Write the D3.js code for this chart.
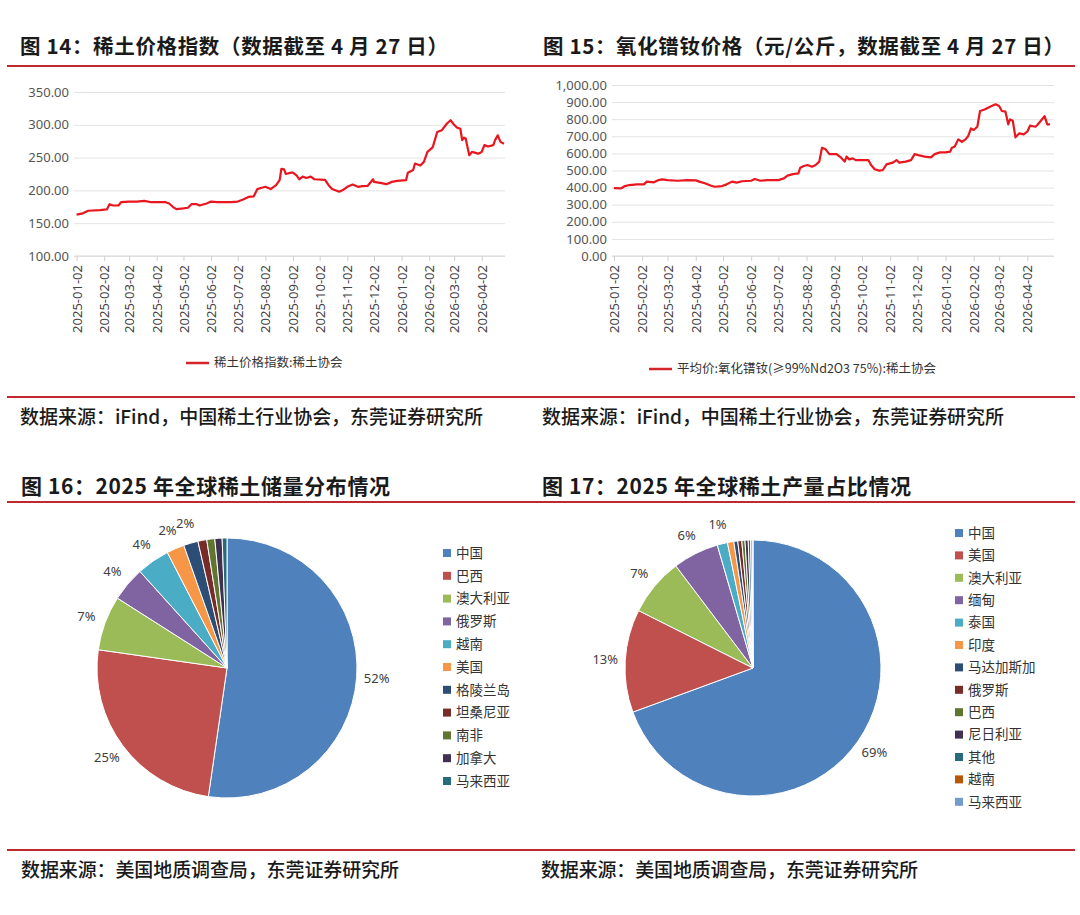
<!DOCTYPE html>
<html>
<head>
<meta charset="utf-8">
<script src="https://cdn.jsdelivr.net/npm/d3@7"></script>
<style>
  body { margin: 0; background: #fff; }
  svg { display: block; font-family: "Noto Sans CJK SC", "Noto Sans", sans-serif; }
</style>
</head>
<body>
<svg id="chart"></svg>
<script>
// ---- data ----
const tickLabels = ['2025-01-02','2025-02-02','2025-03-02','2025-04-02','2025-05-02','2025-06-02',
  '2025-07-02','2025-08-02','2025-09-02','2025-10-02','2025-11-02','2025-12-02',
  '2026-01-02','2026-02-02','2026-03-02','2026-04-02']

// 稀土价格指数
const reDates = ['2025-01-02','2025-01-09','2025-01-15','2025-01-28','2025-02-05','2025-02-08','2025-02-12',
  '2025-02-18','2025-02-21','2025-03-02','2025-03-11','2025-03-19','2025-03-27','2025-04-12','2025-04-16',
  '2025-04-20','2025-04-24','2025-05-02','2025-05-07','2025-05-11','2025-05-17','2025-05-20','2025-05-28',
  '2025-06-02','2025-06-09','2025-06-24','2025-07-02','2025-07-08','2025-07-14','2025-07-20','2025-07-24',
  '2025-07-29','2025-08-02','2025-08-08','2025-08-14','2025-08-18','2025-08-20','2025-08-23','2025-08-25',
  '2025-08-31','2025-09-02','2025-09-06','2025-09-09','2025-09-13','2025-09-17','2025-09-22','2025-09-26',
  '2025-10-08','2025-10-12','2025-10-16','2025-10-24','2025-10-28','2025-11-02','2025-11-08','2025-11-14',
  '2025-11-19','2025-11-25','2025-12-01','2025-12-02','2025-12-09','2025-12-16','2025-12-22','2025-12-28',
  '2026-01-07','2026-01-09','2026-01-15','2026-01-17','2026-01-23','2026-01-27','2026-01-31','2026-02-02',
  '2026-02-06','2026-02-11','2026-02-16','2026-02-22','2026-02-26','2026-03-02','2026-03-05','2026-03-09',
  '2026-03-11','2026-03-13','2026-03-15','2026-03-17','2026-03-19','2026-03-22','2026-03-29','2026-04-02',
  '2026-04-05','2026-04-09','2026-04-15','2026-04-17','2026-04-20','2026-04-23','2026-04-27']
const reIndex = [163,165,169,170,171,179,177,
  177,182,183,183,184,182,182,180,
  175,171.5,172.5,173.5,179,179,177,180,
  183,182,182,183,186,190,191,202,
  204,205.5,202,208,215.6,233,232,225,
  227,227,223,217,221,219,221,217,
  216,208,202,198,200.5,205.5,209,205.5,
  206.5,207,217,213,211.5,209.5,213,214.5,
  215.6,227,231,241,238,243.5,258.7,261,
  266,289,291.6,302,307,300,296,294,
  276.6,280.5,279,266,253.6,258.7,256,258.7,
  269,267,269,276.6,284,274,271]

// 平均价:氧化镨钕 (元/公斤)
const ndDates = ['2025-01-02','2025-01-10','2025-01-14','2025-01-19','2025-01-27','2025-02-04','2025-02-07',
  '2025-02-15','2025-02-20','2025-02-24','2025-03-02','2025-03-13','2025-03-24','2025-04-02','2025-04-06',
  '2025-04-12','2025-04-19','2025-04-23','2025-05-01','2025-05-06','2025-05-12','2025-05-17','2025-05-23',
  '2025-06-02','2025-06-06','2025-06-12','2025-06-20','2025-07-02','2025-07-08','2025-07-12','2025-07-18',
  '2025-07-24','2025-07-26','2025-07-30','2025-08-03','2025-08-08','2025-08-12','2025-08-16','2025-08-19',
  '2025-08-23','2025-08-27','2025-09-04','2025-09-09','2025-09-13','2025-09-15','2025-09-18','2025-09-22',
  '2025-09-25','2025-10-09','2025-10-12','2025-10-16','2025-10-21','2025-10-25','2025-10-29','2025-11-05',
  '2025-11-09','2025-11-12','2025-11-19','2025-11-25','2025-11-29','2025-12-03','2025-12-10','2025-12-17',
  '2025-12-21','2025-12-27','2026-01-02','2026-01-07','2026-01-09','2026-01-12','2026-01-16','2026-01-20',
  '2026-01-24','2026-01-27','2026-01-30','2026-02-02','2026-02-06','2026-02-09','2026-02-14','2026-02-20',
  '2026-02-26','2026-03-02','2026-03-05','2026-03-09','2026-03-12','2026-03-14','2026-03-17','2026-03-20',
  '2026-03-24','2026-03-29','2026-04-02','2026-04-05','2026-04-11','2026-04-13','2026-04-17','2026-04-21',
  '2026-04-24','2026-04-27']
const ndPrice = [397,396,409,415,419,419,435,
  431,444,448,444,440,444,442,435,
  425,411,405,409,419,435,429,437,
  440,450,440,444,444,454,470,479,
  483,516,526,532,522,532,552,633,
  624,596,596,575,552,581,565,571,
  561,561,532,507,499,503,536,546,
  561,546,552,561,596,590,581,577,
  596,606,606,610,633,639,682,668,
  682,702,746,737,756,848,857,873,
  887,877,848,844,770,799,791,694,
  717,711,727,762,756,766,791,818,
  770,770]

// 2025 年全球稀土储量分布 (%)
const reserveNames = ['中国','巴西','澳大利亚','俄罗斯','越南','美国','格陵兰岛','坦桑尼亚','南非','加拿大','马来西亚']
const reserveShare = [52.4,25.0,6.8,4.3,4.1,2.2,1.8,1.1,1.0,0.9,0.6]

// 2025 年全球稀土产量占比 (%)
const outputNames = ['中国','美国','澳大利亚','缅甸','泰国','印度','马达加斯加','俄罗斯','巴西','尼日利亚','其他','越南','马来西亚']
const outputShare = [69.4,13.0,7.3,5.8,1.3,0.8,0.5,0.5,0.4,0.4,0.3,0.2,0.1]

const titles = ['图 14：稀土价格指数（数据截至 4 月 27 日）',
  '图 15：氧化镨钕价格（元/公斤，数据截至 4 月 27 日）',
  '图 16：2025 年全球稀土储量分布情况',
  '图 17：2025 年全球稀土产量占比情况']
const sources = ['数据来源：iFind，中国稀土行业协会，东莞证券研究所',
  '数据来源：美国地质调查局，东莞证券研究所']
const seriesNames = ['稀土价格指数:稀土协会', '平均价:氧化镨钕(≥99%Nd2O3 75%):稀土协会']

// ---- drawing ----
const svg = d3.select('#chart').attr('width', 1080).attr('height', 915)
const parse = d3.timeParse('%Y-%m-%d')
const ruleColor = '#c0282e'
const lineRed = '#e8161e'
const pal = ['#4f81bd','#c0504d','#9bbb59','#8064a2','#4bacc6','#f79646',
  '#2c4d75','#772c2a','#5f7530','#403152','#276a7c','#b65708','#729aca']

svg.append('rect').attr('width', 1080).attr('height', 915).attr('fill', '#fff')

// red rules
;[66, 397, 502, 850].forEach(y => {
  svg.append('line').attr('x1', 7).attr('x2', 1075).attr('y1', y).attr('y2', y)
    .attr('stroke', ruleColor).attr('stroke-width', 2)
})

function heading(x, y, text, len, size, weight) {
  svg.append('text').attr('x', x).attr('y', y).text(text)
    .attr('font-size', size).attr('font-weight', weight).attr('fill', '#1a1a1a')
    .attr('textLength', len).attr('lengthAdjust', 'spacing')
}

heading(20, 54, titles[0], 428, 20.5, 'bold')
heading(543, 54, titles[1], 521, 20.5, 'bold')
heading(21, 494, titles[2], 369, 21, 'bold')
heading(542, 494, titles[3], 369, 21, 'bold')
heading(20, 424, sources[0], 463, 19, 500)
heading(542, 424, sources[0], 462, 19, 500)
heading(21, 877, sources[1], 378, 19, 500)
heading(541, 877, sources[1], 377, 19, 500)

function lineChart(cfg) {
  const { gridLeft, gridRight, left, right, top, bottom, domain, ticks, fmt, dates, values, name, legendX, legendY } = cfg
  const x = d3.scaleTime().domain([parse('2025-01-02'), parse('2026-04-27')]).range([left, right])
  const y = d3.scaleLinear().domain(domain).range([bottom, top])
  const g = svg.append('g')

  const yAxis = g.append('g').attr('transform', `translate(${gridLeft},0)`)
    .call(d3.axisLeft(y).tickValues(ticks).tickFormat(fmt).tickSize(-(gridRight - gridLeft)).tickPadding(5))
  yAxis.select('.domain').remove()
  yAxis.selectAll('line').attr('stroke', '#e3e3e3')
  yAxis.selectAll('text').attr('font-size', 13).attr('fill', '#555').attr('font-family', '"Noto Sans", sans-serif')

  const xAxis = g.append('g').attr('transform', `translate(0,${bottom})`)
    .call(d3.axisBottom(x).tickValues(tickLabels.map(parse)).tickSizeOuter(0).tickSize(5)
      .tickFormat((d, i) => tickLabels[i]))
  xAxis.select('.domain').attr('stroke', '#d9d9d9').attr('d', `M${gridLeft - left + left},0H${gridRight}`)
  xAxis.selectAll('line').attr('stroke', '#d0d0d0')
  xAxis.selectAll('text')
    .attr('transform', 'rotate(-90)')
    .attr('x', -9).attr('y', 0).attr('dy', '0.35em')
    .attr('text-anchor', 'end')
    .attr('font-size', 13).attr('fill', '#444')
    .attr('font-family', '"Noto Sans", sans-serif')

  const pts = dates.map((d, i) => [parse(d), values[i]])
  const line = d3.line().x(d => x(d[0])).y(d => y(d[1]))
  g.append('path').datum(pts).attr('d', line)
    .attr('fill', 'none').attr('stroke', lineRed).attr('stroke-width', 2.2).attr('stroke-linejoin', 'round')

  g.append('line').attr('x1', legendX).attr('x2', legendX + 23).attr('y1', legendY).attr('y2', legendY)
    .attr('stroke', '#d4232a').attr('stroke-width', 2.5)
  g.append('text').attr('x', legendX + 28).attr('y', legendY).attr('dy', '0.35em')
    .text(name).attr('font-size', 12.5).attr('fill', '#333')
}

lineChart({
  gridLeft: 74, gridRight: 505, left: 76.6, right: 504, top: 92, bottom: 256,
  domain: [100, 350], ticks: d3.range(100, 351, 50), fmt: d3.format('.2f'),
  dates: reDates, values: reIndex, name: seriesNames[0], legendX: 186, legendY: 363
})
lineChart({
  gridLeft: 612, gridRight: 1054, left: 614, right: 1050, top: 85, bottom: 256,
  domain: [0, 1000], ticks: d3.range(0, 1001, 100), fmt: d3.format(',.2f'),
  dates: ndDates, values: ndPrice, name: seriesNames[1], legendX: 649, legendY: 369
})

function pieChart(cfg) {
  const { cx, cy, r, names, values, labelMin, legendX, legendY, legendStep } = cfg
  const total = d3.sum(values)
  const pie = d3.pie().sort(null).value(d => d)
  const arc = d3.arc().innerRadius(0).outerRadius(r)
  const labelArc = d3.arc().innerRadius(r + 20).outerRadius(r + 20)
  const color = d3.scaleOrdinal().domain(names).range(pal)
  const arcs = pie(values)

  const g = svg.append('g').attr('transform', `translate(${cx},${cy})`)
  g.selectAll('.slice').data(arcs).enter()
    .append('path').attr('class', 'slice')
    .attr('d', arc)
    .attr('fill', (d, i) => color(names[i]))
    .attr('stroke', '#fff').attr('stroke-width', 1)

  g.selectAll('.plabel').data(arcs.filter(d => d.value >= labelMin)).enter()
    .append('text').attr('class', 'plabel')
    .attr('transform', d => `translate(${labelArc.centroid(d)})`)
    .attr('text-anchor', 'middle').attr('dy', '0.35em')
    .attr('font-size', 13).attr('fill', '#404040')
    .attr('font-family', '"Noto Sans", sans-serif')
    .text(d => Math.round(d.value / total * 100) + '%')

  const lg = svg.append('g')
  names.forEach((n, i) => {
    const yy = legendY + i * legendStep
    lg.append('rect').attr('x', legendX).attr('y', yy - 4).attr('width', 8).attr('height', 8)
      .attr('fill', color(n))
    lg.append('text').attr('x', legendX + 13).attr('y', yy).attr('dy', '0.35em')
      .text(n).attr('font-size', 13.5).attr('fill', '#333')
  })
}

pieChart({
  cx: 227, cy: 668, r: 130, names: reserveNames, values: reserveShare, labelMin: 1.5,
  legendX: 443, legendY: 553, legendStep: 22.8
})
pieChart({
  cx: 753, cy: 668, r: 128, names: outputNames, values: outputShare, labelMin: 1,
  legendX: 955, legendY: 533, legendStep: 22.4
})
</script>
</body>
</html>
